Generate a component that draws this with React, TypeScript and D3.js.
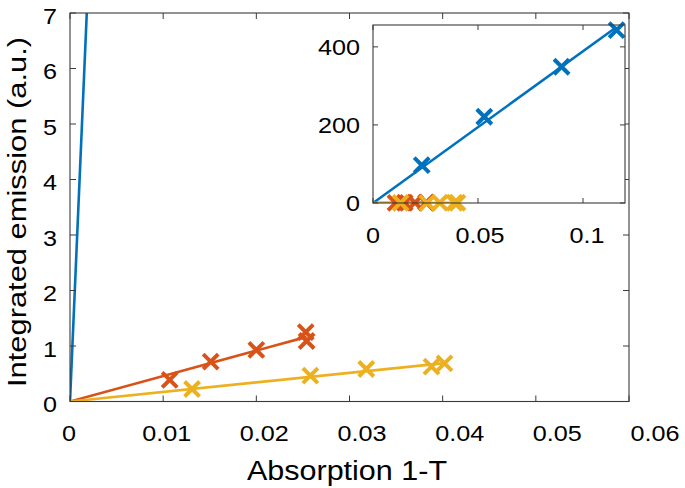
import { useMemo } from "react";
import * as d3 from "d3";

const W = 685;
const H = 488;

const blueX = [0.0232, 0.053, 0.0898, 0.116];
const blueY = [97, 221, 349, 443];
const orangeX = [0.0107, 0.0151, 0.02, 0.0253, 0.0254];
const orangeY = [0.39, 0.72, 0.93, 1.25, 1.09];
const yellowX = [0.0131, 0.0258, 0.0318, 0.0388, 0.0402];
const yellowY = [0.225, 0.465, 0.586, 0.627, 0.688];

const mainXTicks = [0, 0.01, 0.02, 0.03, 0.04, 0.05, 0.06];
const mainYTicks = [0, 1, 2, 3, 4, 5, 6, 7];
const insetXTicks = [0, 0.05, 0.1];
const insetYTicks = [0, 200, 400];

const COLORS = { blue: "#0072BD", orange: "#D95319", yellow: "#EDB120" };
const AXIS = "#3a3a3a";
const FONT = "'Liberation Sans', Arial, Helvetica, sans-serif";

type Series = { xs: number[]; ys: number[]; color: string };

const seriesList: Series[] = [
  { xs: blueX, ys: blueY, color: COLORS.blue },
  { xs: orangeX, ys: orangeY, color: COLORS.orange },
  { xs: yellowX, ys: yellowY, color: COLORS.yellow },
];

// least squares line through the origin
const slopeOf = (s: Series) =>
  d3.sum(s.xs, (x, i) => x * s.ys[i]) / d3.sum(s.xs, (x) => x * x);

const fmt = (v: number) => (v === 0 ? "0" : String(+v.toFixed(3)));

type PanelProps = {
  id: string;
  x: d3.ScaleLinear<number, number>;
  y: d3.ScaleLinear<number, number>;
  xTicks: number[];
  yTicks: number[];
  xLabelX: d3.ScaleLinear<number, number>;
  xLabelY: number;
  yLabelX: number;
  yLabelDy: number;
  fontSize: number;
  stretch: number;
  tickLen: number;
};

const Cross = ({ cx, cy, color }: { cx: number; cy: number; color: string }) => {
  const r = 7.5;
  return (
    <path
      d={`M${cx - r},${cy - r}L${cx + r},${cy + r}M${cx - r},${cy + r}L${cx + r},${cy - r}`}
      stroke={color}
      strokeWidth={4}
      fill="none"
    />
  );
};

const Panel = (p: PanelProps) => {
  const [x0, x1] = p.x.range();
  const [y0, y1] = p.y.range(); // y0 bottom, y1 top
  const line = d3
    .line<[number, number]>()
    .x((d) => p.x(d[0]))
    .y((d) => p.y(d[1]));
  return (
    <g>
      <rect x={x0} y={y1} width={x1 - x0} height={y0 - y1} fill="#fff" />
      <defs>
        <clipPath id={p.id}>
          <rect x={x0} y={y1} width={x1 - x0} height={y0 - y1} />
        </clipPath>
      </defs>
      <g clipPath={`url(#${p.id})`}>
        {seriesList.map((s, i) => {
          const k = slopeOf(s);
          const xm = d3.max(s.xs) as number;
          return (
            <path
              key={i}
              d={line([
                [0, 0],
                [xm, k * xm],
              ]) || undefined}
              stroke={s.color}
              strokeWidth={2.6}
              fill="none"
            />
          );
        })}
      </g>
      {seriesList.map((s, i) => (
        <g key={i}>
          {s.xs.map((xv, j) => (
            <Cross key={j} cx={p.x(xv)} cy={p.y(s.ys[j])} color={s.color} />
          ))}
        </g>
      ))}
      <rect
        x={x0}
        y={y1}
        width={x1 - x0}
        height={y0 - y1}
        fill="none"
        stroke={AXIS}
        strokeWidth={1.1}
      />
      {p.xTicks.map((t) => (
        <g key={"xt" + t}>
          <line x1={p.x(t)} x2={p.x(t)} y1={y0} y2={y0 - p.tickLen} stroke={AXIS} />
          <line x1={p.x(t)} x2={p.x(t)} y1={y1} y2={y1 + p.tickLen} stroke={AXIS} />
          <text
            transform={`translate(${p.xLabelX(t)},${p.xLabelY}) scale(${p.stretch},1)`}
            textAnchor="middle"
            fontSize={p.fontSize}
            fontFamily={FONT}
            fill="#000"
          >
            {fmt(t)}
          </text>
        </g>
      ))}
      {p.yTicks.map((t) => (
        <g key={"yt" + t}>
          <line x1={x0} x2={x0 + p.tickLen} y1={p.y(t)} y2={p.y(t)} stroke={AXIS} />
          <line x1={x1} x2={x1 - p.tickLen} y1={p.y(t)} y2={p.y(t)} stroke={AXIS} />
          <text
            transform={`translate(${p.yLabelX},${p.y(t) + p.yLabelDy}) scale(${p.stretch},1)`}
            textAnchor="end"
            fontSize={p.fontSize}
            fontFamily={FONT}
            fill="#000"
          >
            {fmt(t)}
          </text>
        </g>
      ))}
    </g>
  );
};

export default function App() {
  const main = useMemo(() => {
    const x = d3.scaleLinear().domain([0, 0.06]).range([70, 629]);
    const y = d3.scaleLinear().domain([0, 7]).range([401.5, 13]);
    const xl = d3.scaleLinear().domain([0, 0.06]).range([69, 655]);
    return { x, y, xl };
  }, []);
  const inset = useMemo(() => {
    const x = d3.scaleLinear().domain([0, 0.12]).range([373, 625]);
    const y = d3.scaleLinear().domain([0, 456]).range([203, 25]);
    const xl = d3.scaleLinear().domain([0, 0.1]).range([373, 587]);
    return { x, y, xl };
  }, []);

  return (
    <svg
      width={W}
      height={H}
      style={{ position: "absolute", left: 0, top: 0, background: "#fff" }}
    >
      <rect width={W} height={H} fill="#fff" />
      <Panel
        id="clip-main"
        x={main.x}
        y={main.y}
        xTicks={mainXTicks}
        yTicks={mainYTicks}
        xLabelX={main.xl}
        xLabelY={441}
        yLabelX={57}
        yLabelDy={10.5}
        fontSize={22.5}
        stretch={1.12}
        tickLen={6}
      />
      <Panel
        id="clip-inset"
        x={inset.x}
        y={inset.y}
        xTicks={insetXTicks}
        yTicks={insetYTicks}
        xLabelX={inset.xl}
        xLabelY={243}
        yLabelX={360}
        yLabelDy={8}
        fontSize={22.5}
        stretch={1.12}
        tickLen={5}
      />
      <text
        transform={`translate(347,480) scale(1.09,1)`}
        textAnchor="middle"
        fontSize={28}
        fontFamily={FONT}
        fill="#000"
      >
        Absorption 1-T
      </text>
      <text
        transform="translate(26,212) rotate(-90)"
        textAnchor="middle"
        fontSize={26}
        fontFamily={FONT}
        textLength={350}
        lengthAdjust="spacingAndGlyphs"
        fill="#000"
      >
        Integrated emission (a.u.)
      </text>
    </svg>
  );
}
